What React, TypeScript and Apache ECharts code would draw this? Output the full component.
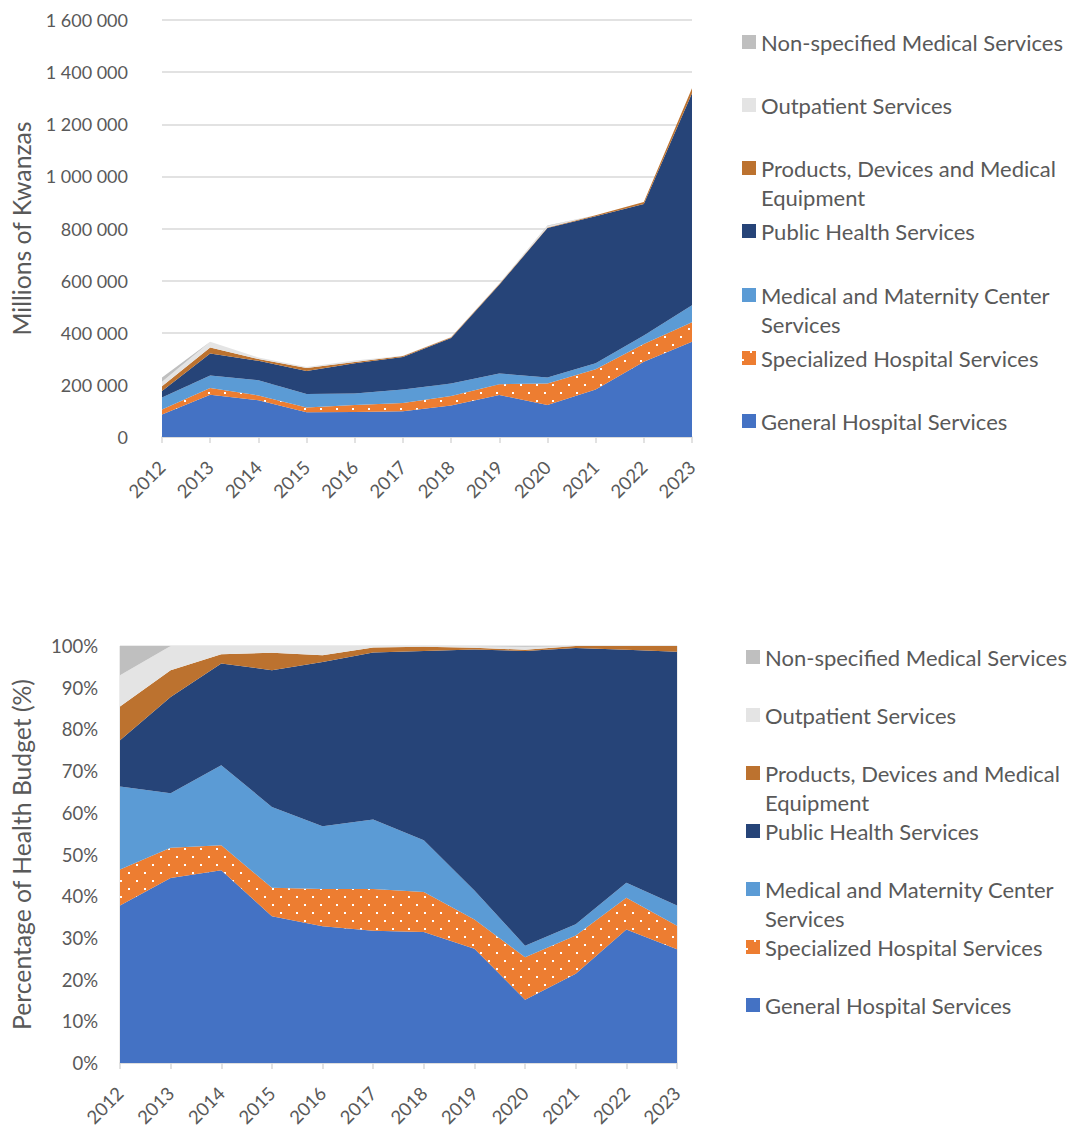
import React, { useEffect, useRef } from 'react';
import * as echarts from 'echarts';

const years = ['2012', '2013', '2014', '2015', '2016', '2017', '2018', '2019', '2020', '2021', '2022', '2023'];

// Millions of Kwanzas
const general = [86200, 162000, 141000, 94700, 96400, 98900, 120600, 161400, 123000, 182000, 288600, 365000];
const specialized = [19600, 26300, 18300, 18300, 26200, 31200, 36900, 41200, 82600, 78300, 68600, 75000];
const medical = [45400, 47800, 58600, 52200, 44400, 52100, 47600, 41200, 22700, 23000, 32500, 65600];
const publicHealth = [25300, 84300, 74400, 88200, 115800, 124800, 174300, 340400, 573500, 563400, 504200, 813500];
const products = [18500, 23400, 6700, 11300, 4700, 3700, 3800, 2400, 2400, 4300, 8100, 18700];
const outpatient = [17100, 21200, 6100, 4300, 6500, 1200, 800, 2400, 5700, 0, 0, 0];
const nonSpecified = [16000, 0, 0, 0, 0, 0, 0, 0, 1600, 0, 0, 0];

const topTicks = [0, 200000, 400000, 600000, 800000, 1000000, 1200000, 1400000, 1600000];

const seriesDefs = [
  { name: 'General Hospital Services', data: general, color: '#4472C4' },
  { name: 'Specialized Hospital Services', data: specialized, color: '#ED7D31', dotted: true },
  { name: 'Medical and Maternity Center Services', data: medical, color: '#5B9BD5' },
  { name: 'Public Health Services', data: publicHealth, color: '#264478' },
  { name: 'Products, Devices and Medical Equipment', data: products, color: '#BC722F' },
  { name: 'Outpatient Services', data: outpatient, color: '#E4E4E4' },
  { name: 'Non-specified Medical Services', data: nonSpecified, color: '#BFBFBF' },
];

const legendOrder = [
  { name: 'Non-specified Medical Services', first: 'Non-specified Medical Services', rest: '' },
  { name: 'Outpatient Services', first: 'Outpatient Services', rest: '' },
  { name: 'Products, Devices and Medical Equipment', first: 'Products, Devices and Medical', rest: 'Equipment' },
  { name: 'Public Health Services', first: 'Public Health Services', rest: '' },
  { name: 'Medical and Maternity Center Services', first: 'Medical and Maternity Center', rest: 'Services' },
  { name: 'Specialized Hospital Services', first: 'Specialized Hospital Services', rest: '' },
  { name: 'General Hospital Services', first: 'General Hospital Services', rest: '' },
];

const FONT = 'Lato';
const GREY_TEXT = '#595959';
const GRID_LINE = '#D9D9D9';

function fmtSpace(v: number) {
  return String(v).replace(/\B(?=(\d{3})+(?!\d))/g, ' ');
}

export default function App() {
  const ref = useRef<HTMLDivElement>(null);
  useEffect(() => {
    document.body.style.margin = '0';
    const chart = echarts.init(ref.current!, null, { renderer: 'svg' });

    const totals = years.map((_, i) => seriesDefs.reduce((s, d) => s + d.data[i], 0));

    const decal = {
      symbol: 'rect',
      symbolSize: 1,
      color: '#ffffff',
      dashArrayX: [[2, 14], [0, 8, 2, 6]],
      dashArrayY: [2, 6],
      rotation: 0,
    };

    const makeSeries = (gridIdx: number, pct: boolean) =>
      seriesDefs.map((d) => ({
        name: d.name,
        type: 'line',
        xAxisIndex: gridIdx,
        yAxisIndex: gridIdx,
        stack: 'total' + gridIdx,
        data: pct ? d.data.map((v, i) => (v / totals[i]) * 100) : d.data,
        showSymbol: false,
        symbol: 'none',
        lineStyle: { width: 0 },
        areaStyle: { color: d.color, opacity: 1 },
        itemStyle: d.dotted ? { color: d.color, decal } : { color: d.color },
        color: d.color,
        emphasis: { disabled: true },
      }));

    const topYs = [42, 105, 168, 231, 295, 358, 421];
    const botYs = [657, 715, 773, 831, 889, 947, 1005];

    const LFS = 22;
    const legends: any[] = [];
    const graphics: any[] = [];
    const addLegend = (ys: number[], iconX: number, lineGap: number) => {
      legendOrder.forEach((item, k) => {
        legends.push({
          data: [item.name],
          left: iconX,
          top: ys[k] - LFS / 2,
          orient: 'vertical',
          padding: 0,
          itemWidth: 14,
          itemHeight: 14,
          icon: 'rect',
          selectedMode: false,
          formatter: () => item.first,
          textStyle: { fontFamily: FONT, fontSize: LFS, color: GREY_TEXT, lineHeight: LFS },
        });
        if (item.rest) {
          graphics.push({
            type: 'text',
            left: iconX + 19,
            top: ys[k] + lineGap - LFS / 2 - 1,
            style: { text: item.rest, fontFamily: FONT, fontSize: LFS, fill: GREY_TEXT },
          });
        }
      });
    };
    addLegend(topYs, 742, 30);
    addLegend(botYs, 746, 30);

    const xAxisCommon = {
      type: 'category',
      data: years,
      boundaryGap: false,
      axisLine: { show: true, lineStyle: { color: GRID_LINE, width: 1.5 } },
      axisTick: { show: true, length: 6, lineStyle: { color: GRID_LINE, width: 1.5 } },
      axisLabel: { rotate: 45, margin: 27, fontFamily: FONT, fontSize: 18.5, color: GREY_TEXT },
    };

    const option: any = {
      animation: false,
      backgroundColor: '#ffffff',
      grid: [
        { left: 162, right: 389, top: 20, bottom: 696 },
        { left: 120, right: 404, top: 646, bottom: 70, show: true, borderColor: GRID_LINE, borderWidth: 1 },
      ],
      xAxis: [
        { ...xAxisCommon, gridIndex: 0 },
        { ...xAxisCommon, gridIndex: 1 },
      ],
      yAxis: [
        {
          type: 'value',
          gridIndex: 0,
          min: topTicks[0],
          max: topTicks[topTicks.length - 1],
          interval: 200000,
          name: 'Millions of Kwanzas',
          nameLocation: 'middle',
          nameRotate: 90,
          nameGap: 128,
          nameTextStyle: { fontFamily: FONT, fontSize: 24.7, color: GREY_TEXT },
          axisLine: { show: false },
          axisTick: { show: false },
          axisLabel: { margin: 34, fontFamily: FONT, fontSize: 18, color: GREY_TEXT, formatter: (v: number) => fmtSpace(v) },
          splitLine: { show: true, lineStyle: { color: GRID_LINE, width: 1.5 } },
        },
        {
          type: 'value',
          gridIndex: 1,
          min: 0,
          max: 100,
          interval: 10,
          name: 'Percentage of Health Budget (%)',
          nameLocation: 'middle',
          nameRotate: 90,
          nameGap: 86,
          nameTextStyle: { fontFamily: FONT, fontSize: 24.7, color: GREY_TEXT },
          axisLine: { show: false },
          axisTick: { show: false },
          axisLabel: { margin: 22, fontFamily: FONT, fontSize: 18.5, color: GREY_TEXT, formatter: (v: number) => v + '%' },
          splitLine: { show: false },
        },
      ],
      legend: legends,
      graphic: graphics,
      series: [...makeSeries(0, false), ...makeSeries(1, true)],
    };

    chart.setOption(option);
    return () => chart.dispose();
  }, []);
  return <div ref={ref} style={{ width: 1081, height: 1133 }} />;
}
